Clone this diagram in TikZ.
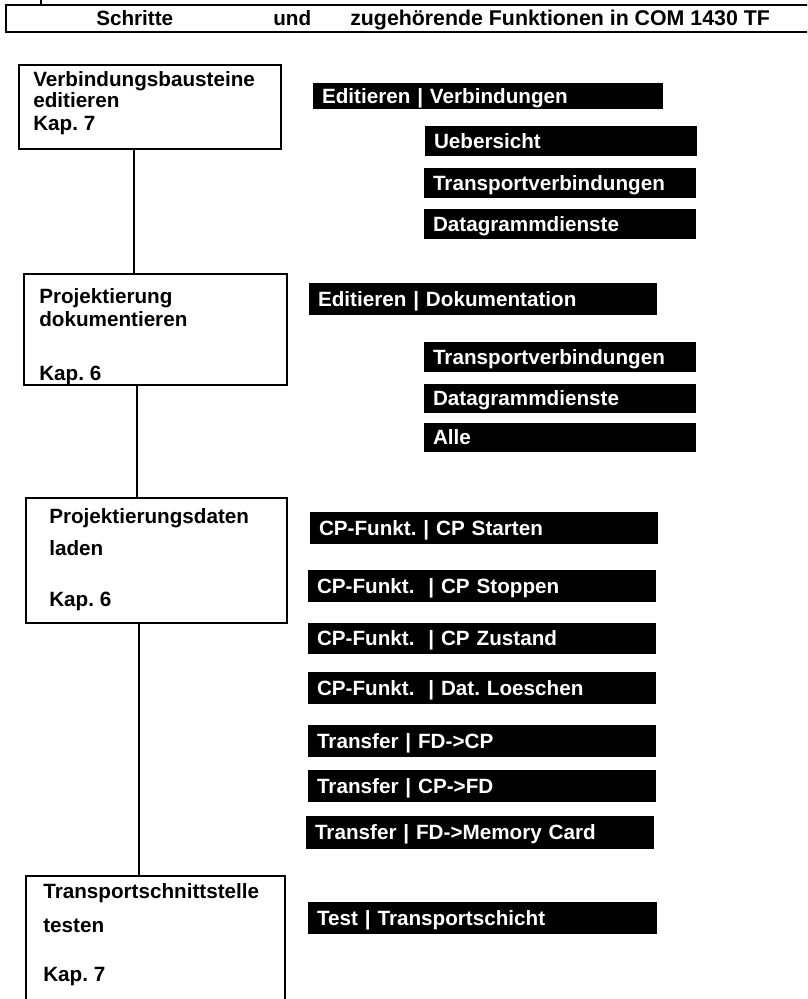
\documentclass[tikz,border=0pt]{standalone}
\usepackage{fontspec}
\setmainfont{Liberation Sans}
\frenchspacing
\newcommand\menuitem[6]{%
  \pgfmathsetmacro\menuW{(#4-#2)*0.75-13.5}%
  \pgfmathsetmacro\menuH{(#5-#3)*0.75}%
  \node[menubox, minimum height=\menuH pt, text width=\menuW pt] (#1)
    at ({(#2+#4)/2},{(#3+#5)/2}) {#6};}
\newcommand\stepframe[5]{%
  \pgfmathsetmacro\menuW{(#4-#2)*0.75}%
  \pgfmathsetmacro\menuH{(#5-#3)*0.75}%
  \node[frame, anchor=north west, minimum width=\menuW pt, minimum height=\menuH pt] (#1)
    at (#2,#3) {};}
\begin{document}
\begin{tikzpicture}[x=0.75pt,y=-0.75pt,
  frame/.style={draw=black, line width=1.5pt, inner sep=0pt},
  link/.style={draw=black, line width=1.5pt},
  labelfont/.style={font=\bfseries\fontsize{15.5pt}{18pt}\selectfont},
  steptext/.style={labelfont, anchor=base west, inner sep=0pt},
  menubox/.style={labelfont, fill=black, text=white, inner xsep=6.75pt,
    inner ysep=0pt, align=left, text height=11.5pt, text depth=0.4pt},
]
\useasboundingbox (0,0) rectangle (807,999);
\clip (0,0) rectangle (807,999);

% stray descender of the line above the title bar
\draw[line width=1.2pt] (41,0) -- (41,4);

% title bar
\path[draw=black, line width=1.2pt] (830,5) -- (6,5) -- (6,32) -- (830,32);
\node[steptext] (t1) at (96,26) {Schritte};
\node[steptext] (t2) at (273,26) {und};
\node[steptext, font=\bfseries\fontsize{16pt}{18pt}\selectfont] (t3) at (350,26)
  {zugehörende Funktionen in COM 1430 TF};

% steps
\stepframe{s1}{18}{64}{280}{148}
\stepframe{s2}{23}{273}{286}{384}
\stepframe{s3}{25}{497}{286}{622}
\stepframe{s4}{25}{875}{284}{1100}

\node[steptext] at (33,87) {Verbindungsbausteine};
\node[steptext] at (33,108) {editieren};
\node[steptext] at (33,130) {Kap. 7};

\node[steptext] at (39,303) {Projektierung};
\node[steptext] at (39,326) {dokumentieren};
\node[steptext] at (39,380) {Kap. 6};

\node[steptext] at (49,523) {Projektierungsdaten};
\node[steptext] at (49,555) {laden};
\node[steptext] at (49,606) {Kap. 6};

\node[steptext] at (43,898) {Transportschnittstelle};
\node[steptext] at (43,932) {testen};
\node[steptext] at (43,981) {Kap. 7};

% connectors between steps
\coordinate (c1) at (134,0);
\coordinate (c2) at (137,0);
\coordinate (c3) at (139,0);
\draw[link] (s1.south -| c1) -- (s2.north -| c1);
\draw[link] (s2.south -| c2) -- (s3.north -| c2);
\draw[link] (s3.south -| c3) -- (s4.north -| c3);

% menu functions
\menuitem{m1}{313}{83}{663}{109}{Editieren | Verbindungen}
\menuitem{m2}{425}{126}{697}{156}{Uebersicht}
\menuitem{m3}{424}{168}{696}{198}{Transportverbindungen}
\menuitem{m4}{424}{209}{696}{239}{Datagrammdienste}

\menuitem{m5}{309}{283}{657}{315}{Editieren | Dokumentation}
\menuitem{m6}{424}{342}{696}{372}{Transportverbindungen}
\menuitem{m7}{424}{384}{696}{413}{Datagrammdienste}
\menuitem{m8}{424}{423}{696}{452}{Alle}

\menuitem{m9}{310}{512}{658}{544}{CP-Funkt. | CP Starten}
\menuitem{m10}{308}{570}{656}{602}{CP-Funkt.\ \ | CP Stoppen}
\menuitem{m11}{308}{623}{656}{654}{CP-Funkt.\ \ | CP Zustand}
\menuitem{m12}{308}{672}{656}{704}{CP-Funkt.\ \ | Dat. Loeschen}
\menuitem{m13}{308}{725}{656}{757}{Transfer | FD->CP}
\menuitem{m14}{308}{770}{656}{802}{Transfer | CP->FD}
\menuitem{m15}{306}{816}{654}{849}{Transfer | FD->Memory Card}
\menuitem{m16}{308}{902}{657}{934}{Test | Transportschicht}
\end{tikzpicture}
\end{document}
